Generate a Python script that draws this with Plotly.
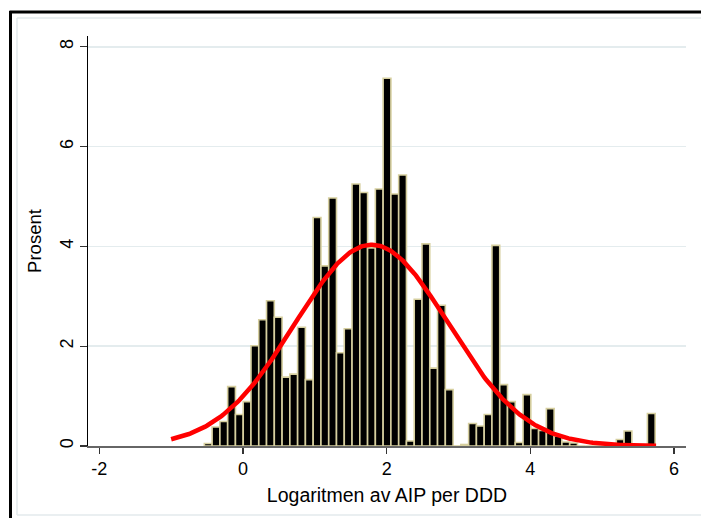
import numpy as np
import plotly.graph_objects as go

# ---- data ----
bin_start = -0.538      # left edge of first bin (log AIP per DDD)
bin_width = 0.1082      # histogram bin width
percent = [0.05, 0.38, 0.49, 1.19, 0.63, 0.89, 2.01, 2.53, 2.91, 2.58,
           1.38, 1.44, 2.38, 1.33, 4.58, 3.61, 4.97, 1.87, 2.35, 5.25,
           5.08, 3.97, 5.15, 7.37, 5.05, 5.43, 0.10, 2.94, 4.05, 1.56,
           2.82, 1.13, 0.00, 0.03, 0.45, 0.40, 0.63, 4.02, 1.23, 0.89,
           0.07, 1.03, 0.35, 0.31, 0.75, 0.20, 0.08, 0.06, 0.00, 0.00,
           0.00, 0.00, 0.00, 0.13, 0.30, 0.00, 0.00, 0.65]
normal_mean = 1.79      # fitted normal overlay
normal_sd = 1.07
normal_xmin, normal_xmax = -1.0, 5.75
x_ticks = [-2, 0, 2, 4, 6]
y_ticks = [0, 2, 4, 6, 8]
x_title = "Logaritmen av AIP per DDD"
y_title = "Prosent"

# ---- derived ----
centers = [bin_start + (i + 0.5) * bin_width for i in range(len(percent))]
xs = np.linspace(normal_xmin, normal_xmax, 300)
ys = 100 * bin_width / (normal_sd * np.sqrt(2 * np.pi)) * np.exp(-0.5 * ((xs - normal_mean) / normal_sd) ** 2)

FONT = "Liberation Sans, Arial, sans-serif"

fig = go.Figure()
fig.add_trace(go.Bar(
    x=centers, y=percent, width=bin_width,
    marker=dict(color="black", line=dict(color="#d6cf9f", width=1.6)),
    hoverinfo="skip",
))
fig.add_trace(go.Scatter(
    x=xs, y=ys, mode="lines",
    line=dict(color="#ff0000", width=4.5),
    hoverinfo="skip",
))

W, H = 701, 518
L, R, T, B = 88, 686, 36, 446   # plot area in pixels

def px_x(p):
    return (p - L) / (R - L)

def px_y(p):
    return (B - p) / (B - T)

shapes = [
    # faint inner graph-region border
    dict(type="line", xref="paper", yref="paper", x0=px_x(17), x1=px_x(705), y0=px_y(18), y1=px_y(18),
         line=dict(color="#e3eaec", width=1.5), layer="below"),
    dict(type="line", xref="paper", yref="paper", x0=px_x(17), x1=px_x(17), y0=px_y(18), y1=px_y(515),
         line=dict(color="#e3eaec", width=1.5), layer="below"),
    dict(type="line", xref="paper", yref="paper", x0=px_x(17), x1=px_x(705), y0=px_y(515), y1=px_y(515),
         line=dict(color="#e3eaec", width=1.5), layer="below"),
    # black outer frame (top and left)
    dict(type="line", xref="paper", yref="paper", x0=px_x(9.5), x1=px_x(705), y0=px_y(12), y1=px_y(12),
         line=dict(color="black", width=3)),
    dict(type="line", xref="paper", yref="paper", x0=px_x(10.5), x1=px_x(10.5), y0=px_y(11), y1=px_y(522),
         line=dict(color="black", width=3)),
]

fig.update_layout(
    width=W, height=H,
    margin=dict(l=L, r=W - R, t=T, b=H - B, pad=0),
    paper_bgcolor="white", plot_bgcolor="white",
    showlegend=False, bargap=0,
    font=dict(family=FONT, size=18, color="black"),
    shapes=shapes,
    xaxis=dict(
        range=[(L - 243) / 71.84, (R - 243) / 71.84],
        tickmode="array", tickvals=x_ticks, ticktext=[str(v) for v in x_ticks],
        ticks="outside", ticklen=6, tickwidth=1.2, tickcolor="#333",
        showline=True, linecolor="#666", linewidth=1.5,
        showgrid=False, zeroline=False,
        title=dict(text=x_title, standoff=10, font=dict(size=19.5)),
        tickfont=dict(size=18),
    ),
    yaxis=dict(
        range=[0, (B - T) / 49.9],
        tickmode="array", tickvals=y_ticks, ticktext=[str(v) for v in y_ticks],
        tickangle=-90,
        ticks="outside", ticklen=7, tickwidth=1.2, tickcolor="#333",
        showline=True, linecolor="black", linewidth=1.2,
        showgrid=True, gridcolor="#e4ecee", gridwidth=1.5,
        zeroline=False,
        title=dict(text=y_title, standoff=10, font=dict(size=18.5)),
        tickfont=dict(size=18),
    ),
)

fig.write_html("out.html", config={"displayModeBar": False, "staticPlot": True},
               post_script="document.body.style.margin='0';document.body.style.overflow='hidden';")
